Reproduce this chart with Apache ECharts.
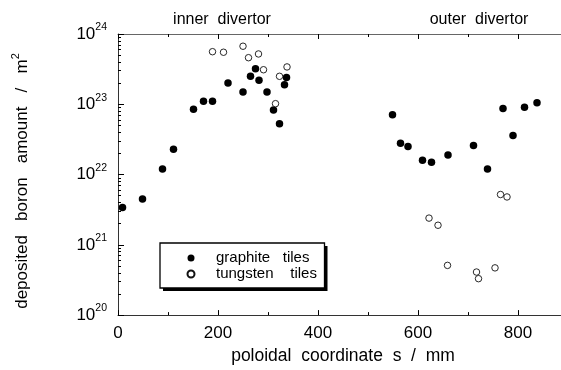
<!DOCTYPE html>
<html>
<head>
<meta charset="utf-8">
<script src="https://cdn.jsdelivr.net/npm/echarts@6/dist/echarts.min.js"></script>
<style>html,body{margin:0;padding:0;background:#fff;}#c{width:561px;height:370px;}</style>
</head>
<body>
<div id="c"></div>
<script>
// ---- data ----
const graphiteS = [9, 49, 89, 111, 151, 171, 189, 220, 250, 265, 275, 282, 298, 311, 323, 333, 337,
                   549, 565, 580, 609, 627, 660, 711, 739, 770, 790, 813, 838];
const graphiteB = [3.4e21, 4.5e21, 1.2e22, 2.3e22, 8.5e22, 1.1e23, 1.1e23, 2.0e23, 1.5e23, 2.5e23, 3.2e23, 2.2e23, 1.5e23, 8.3e22, 5.3e22, 1.9e23, 2.4e23,
                   7.1e22, 2.8e22, 2.5e22, 1.6e22, 1.5e22, 1.9e22, 2.6e22, 1.2e22, 8.7e22, 3.6e22, 9.1e22, 1.05e23];
const tungstenS = [189, 211, 250, 261, 281, 291, 315, 323, 338,
                   622, 640, 659, 717, 721, 754, 765, 778];
const tungstenB = [5.6e23, 5.5e23, 6.7e23, 4.6e23, 5.2e23, 3.1e23, 1.02e23, 2.5e23, 3.4e23,
                   2.4e21, 1.9e21, 5.1e20, 4.1e20, 3.3e20, 4.7e20, 5.2e21, 4.8e21];
const seriesNames = ['graphite tiles', 'tungsten tiles'];
const xMajorTicks = [0, 200, 400, 600, 800];
const xMinorTicks = [100, 300, 500, 700];
const yDecades = [20, 21, 22, 23];
const yMantissas = [2, 3, 4, 5, 6, 7, 8, 9];
const regionLabels = ['inner  divertor', 'outer  divertor'];

// ---- chart ----
const FONT = '"Liberation Sans", Arial, Helvetica, sans-serif';
const yMinorLog = [];
yDecades.forEach(d => yMantissas.forEach(m => yMinorLog.push(d + Math.log10(m))));

const chart = echarts.init(document.getElementById('c'), null, {renderer: 'canvas'});
const axisCol = '#333';
const xBase = {
  type: 'value', min: 0, max: 886, gridIndex: 0,
  splitLine: {show: false},
  axisLine: {show: true, onZero: false, lineStyle: {color: axisCol, width: 1}}
};
chart.setOption({
  animation: false,
  backgroundColor: '#fff',
  grid: {left: 118, right: 0, top: 34, bottom: 51, containLabel: false},
  xAxis: [
    Object.assign({}, xBase, {
      position: 'bottom',
      axisTick: {inside: true, length: 5, customValues: xMajorTicks, lineStyle: {color: '#000'}},
      axisLabel: {customValues: xMajorTicks, margin: 10, color: '#000', fontFamily: FONT, fontSize: 17},
      name: 'poloidal  coordinate  s  /  mm',
      nameLocation: 'middle', nameGap: 27,
      nameTextStyle: {color: '#000', fontFamily: FONT, fontSize: 17.5, padding: [0, 0, 0, 7]}
    }),
    Object.assign({}, xBase, {
      position: 'top',
      axisLine: {show: true, onZero: false, lineStyle: {color: '#666', width: 1}},
      axisTick: {inside: true, length: 5, customValues: xMajorTicks, lineStyle: {color: '#000'}},
      axisLabel: {show: false}
    }),
    Object.assign({}, xBase, {
      position: 'bottom',
      axisLine: {show: false},
      axisTick: {inside: true, length: 3, customValues: xMinorTicks, lineStyle: {color: '#000'}},
      axisLabel: {show: false}
    }),
    Object.assign({}, xBase, {
      position: 'top',
      axisLine: {show: false},
      axisTick: {inside: true, length: 3, customValues: xMinorTicks, lineStyle: {color: '#000'}},
      axisLabel: {show: false}
    })
  ],
  yAxis: [
    {
      type: 'log', logBase: 10, min: 1e20, max: 1e24, interval: 1, position: 'left',
      splitLine: {show: false},
      axisLine: {show: true, onZero: false, lineStyle: {color: axisCol, width: 1}},
      axisTick: {inside: true, length: 6, lineStyle: {color: '#000'}},
      axisLabel: {
        margin: 11, color: '#000',
        formatter: v => '{b|10}{s|' + Math.round(Math.log10(v)) + '}',
        rich: {
          b: {fontFamily: FONT, fontSize: 17, lineHeight: 24, color: '#000'},
          s: {fontFamily: FONT, fontSize: 10.5, lineHeight: 10, verticalAlign: 'top', color: '#000'}
        }
      }
    },
    {
      type: 'value', min: 20, max: 24, position: 'left',
      splitLine: {show: false},
      axisLine: {show: false},
      axisTick: {inside: true, length: 3, customValues: yMinorLog, lineStyle: {color: '#000'}},
      axisLabel: {show: false}
    }
  ],
  legend: {
    orient: 'vertical', left: 186.5, top: 250,
    padding: 0, itemGap: 0, itemWidth: 7, itemHeight: 7,
    icon: 'circle', z: 10,
    data: seriesNames,
    formatter: n => n === seriesNames[0] ? 'graphite   tiles' : 'tungsten    tiles',
    textStyle: {fontFamily: FONT, fontSize: 15, lineHeight: 16, color: '#000', padding: [0, 0, 0, 16.5]}
  },
  graphic: [
    {type: 'rect', z: 5, shape: {x: 163, y: 246, width: 164.5, height: 45}, style: {fill: '#000'}},
    {type: 'rect', z: 6, shape: {x: 160, y: 243, width: 164.5, height: 45}, style: {fill: '#fff', stroke: '#000', lineWidth: 1.3}},
    {type: 'text', x: 222, y: 20, style: {text: regionLabels[0], font: '16px ' + FONT, fill: '#000', align: 'center', verticalAlign: 'middle'}},
    {type: 'text', x: 479, y: 20, style: {text: regionLabels[1], font: '16px ' + FONT, fill: '#000', align: 'center', verticalAlign: 'middle'}},
    {type: 'text', x: 22, y: 181, rotation: Math.PI / 2,
     style: {
       text: '{a|deposited   boron   amount   /   m}{s|2}',
       align: 'center', verticalAlign: 'middle',
       rich: {
         a: {fontFamily: FONT, fontSize: 17, lineHeight: 24, fill: '#000'},
         s: {fontFamily: FONT, fontSize: 11, lineHeight: 11, verticalAlign: 'top', fill: '#000'}
       }
     }}
  ],
  series: [
    {
      name: seriesNames[0], type: 'scatter', xAxisIndex: 0, yAxisIndex: 0,
      symbol: 'circle', symbolSize: 7.5,
      itemStyle: {color: '#000', borderColor: '#000', borderWidth: 0, opacity: 1},
      data: graphiteS.map((s, i) => [s, graphiteB[i]]), z: 3
    },
    {
      name: seriesNames[1], type: 'scatter', xAxisIndex: 0, yAxisIndex: 0,
      symbol: 'circle', symbolSize: 6.5,
      itemStyle: {color: '#fff', borderColor: '#111', borderWidth: 0.9, opacity: 1},
      data: tungstenS.map((s, i) => [s, tungstenB[i]]), z: 4
    }
  ]
});
</script>
</body>
</html>
